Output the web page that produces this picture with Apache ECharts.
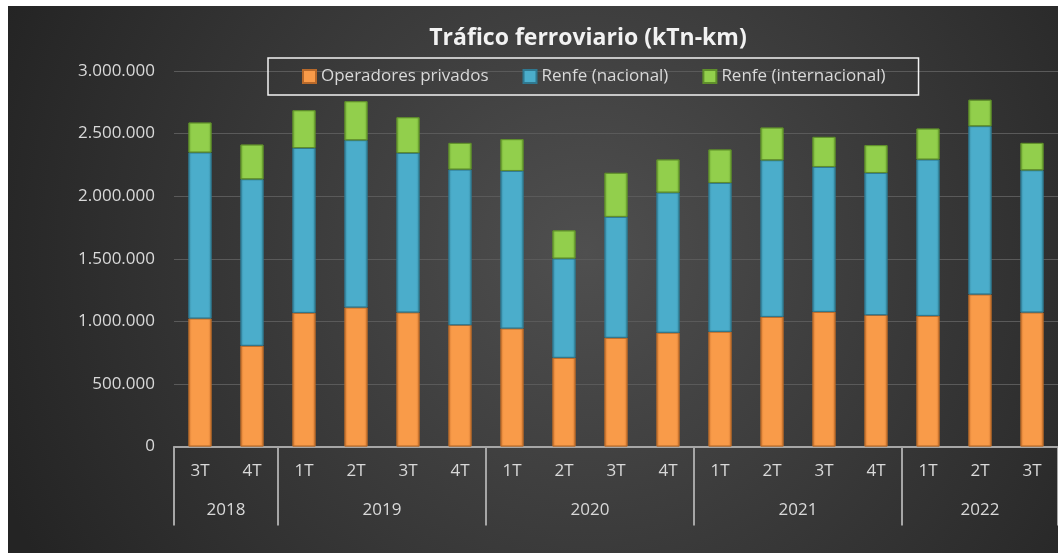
<!DOCTYPE html>
<html>
<head>
<meta charset="utf-8">
<title>Tráfico ferroviario</title>
<script src="https://cdn.jsdelivr.net/npm/echarts@6/dist/echarts.min.js"></script>
<style>
  html, body { margin: 0; padding: 0; background: #ffffff; }
  #chart { position: absolute; left: 8px; top: 6px; width: 1050px; height: 547px; }
</style>
</head>
<body>
<div id="chart"></div>
<script>
// Quarters (first axis level) and years (second level)
var quarters = ["3T", "4T", "1T", "2T", "3T", "4T", "1T", "2T", "3T", "4T", "1T", "2T", "3T", "4T", "1T", "2T", "3T"];
var years = ["2018", "2019", "2020", "2021", "2022"];
var quartersPerYear = [2, 4, 4, 4, 3];

// kTn-km per quarter
var privados = [1023000, 805000, 1068000, 1111000, 1071000, 970000, 943000, 709000, 869000, 909000, 917000, 1036000, 1076000, 1050000, 1044000, 1215000, 1071000];
var renfeNacional = [1326000, 1330000, 1317000, 1336000, 1274000, 1243000, 1259000, 793000, 966000, 1120000, 1189000, 1251000, 1158000, 1136000, 1249000, 1344000, 1136000];
var renfeInternacional = [239000, 277000, 301000, 311000, 285000, 212000, 253000, 224000, 351000, 264000, 267000, 261000, 239000, 221000, 247000, 211000, 218000];

var seriesNames = ["Operadores privados", "Renfe (nacional)", "Renfe (internacional)"];

function formatThousands(v) {
  return String(v).replace(/\B(?=(\d{3})+(?!\d))/g, ".");
}

function barGradient(edge, mid) {
  return new echarts.graphic.LinearGradient(0, 0, 1, 0, [
    { offset: 0, color: edge },
    { offset: 0.14, color: mid },
    { offset: 0.86, color: mid },
    { offset: 1, color: edge },
  ]);
}

// Year axis: half-quarter slots, boundaries get a tick, centres get the label
function buildYearAxis() {
  let slots = [];
  let boundaries = {};
  let start = 0;
  for (let i = 0; i <= quarters.length * 2; i++) slots.push("");
  for (let i = 0; i < years.length; i++) {
    boundaries[start * 2] = true;
    slots[start * 2 + quartersPerYear[i]] = years[i];
    start += quartersPerYear[i];
  }
  boundaries[start * 2] = true;
  return { slots: slots, boundaries: boundaries };
}

var yearAxis = buildYearAxis();

var dom = document.getElementById("chart");
var myChart = echarts.init(dom, null, {
  renderer: "canvas",
  useDirtyRect: false,
});

var labelColor = "#d9d9d9";
var font = "'Open Sans', 'Noto Sans', sans-serif";

var option = {
  backgroundColor: {
    type: "radial",
    x: 0.55,
    y: 0.45,
    r: 1.15,
    colorStops: [
      { offset: 0, color: "#4f4f4f" },
      { offset: 1, color: "#242424" },
    ],
  },
  textStyle: { fontFamily: font },
  graphic: [
    {
      type: "text",
      x: 580,
      y: 32,
      style: {
        text: "Tráfico ferroviario (kTn-km)",
        fill: "#f2f2f2",
        font: "bold 23px 'Open Sans', 'Noto Sans', sans-serif",
        textAlign: "center",
        textVerticalAlign: "middle",
        shadowColor: "rgba(0,0,0,0.6)",
        shadowBlur: 3,
        shadowOffsetX: 1,
        shadowOffsetY: 1,
      },
    },
  ],
  legend: {
    data: seriesNames,
    left: 260,
    top: 52,
    padding: [10, 33, 10, 34],
    itemGap: 34,
    itemWidth: 13,
    itemHeight: 13,
    icon: "rect",
    borderColor: "#f2f2f2",
    borderWidth: 1.5,
    textStyle: { color: labelColor, fontSize: 17, fontFamily: font },
  },
  grid: {
    left: 166,
    right: -3,
    top: 65,
    bottom: 106.5,
  },
  xAxis: [
    {
      type: "category",
      data: quarters,
      axisLine: { lineStyle: { color: "#a6a6a6", width: 2 } },
      axisTick: { show: false },
      axisLabel: { color: labelColor, fontSize: 17, margin: 16, interval: 0 },
    },
    {
      type: "category",
      data: yearAxis.slots,
      boundaryGap: false,
      position: "bottom",
      axisLine: { show: false },
      axisTick: {
        length: 79,
        lineStyle: { color: "#a6a6a6", width: 2 },
        interval: function (index) {
          return !!yearAxis.boundaries[index];
        },
      },
      axisLabel: {
        color: labelColor,
        fontSize: 17,
        margin: 55,
        interval: function (index, value) {
          return value !== "";
        },
      },
    },
  ],
  yAxis: {
    type: "value",
    min: 0,
    max: 3000000,
    interval: 500000,
    axisLine: { show: false },
    axisTick: { show: false },
    splitLine: { lineStyle: { color: "#5a5a5a", width: 1 } },
    axisLabel: {
      color: labelColor,
      fontSize: 17,
      margin: 19,
      formatter: formatThousands,
    },
  },
  series: [
    {
      name: seriesNames[0],
      type: "bar",
      stack: "x",
      barWidth: 23,
      data: privados,
      itemStyle: {
        color: barGradient("#d47a33", "#f99b49"),
        borderColor: "#b8692a",
        borderWidth: 0.8,
      },
    },
    {
      name: seriesNames[1],
      type: "bar",
      stack: "x",
      barWidth: 23,
      data: renfeNacional,
      itemStyle: {
        color: barGradient("#3a8fa8", "#4badcb"),
        borderColor: "#2f7890",
        borderWidth: 0.8,
      },
    },
    {
      name: seriesNames[2],
      type: "bar",
      stack: "x",
      barWidth: 23,
      data: renfeInternacional,
      itemStyle: {
        color: barGradient("#74ad36", "#92cf4c"),
        borderColor: "#5f8f2b",
        borderWidth: 0.8,
      },
    },
  ],
};

if (option && typeof option === "object") {
  myChart.setOption(option);
}

window.addEventListener("resize", myChart.resize);
</script>
</body>
</html>
